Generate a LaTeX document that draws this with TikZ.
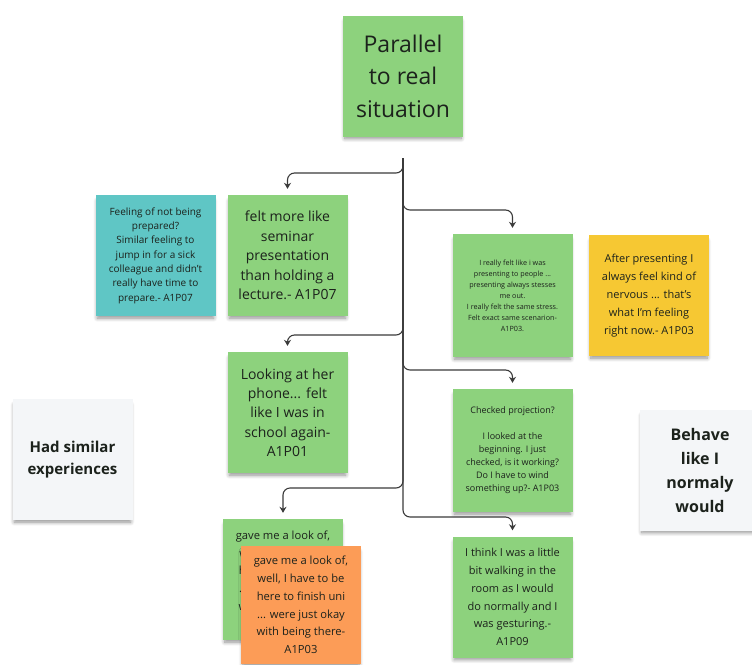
\documentclass[tikz,border=0pt]{standalone}
\usepackage{fontspec}
\setmainfont{Open Sans}
\usepackage{tikz}
\usetikzlibrary{arrows.meta,shadows.blur}
\usepackage{xcolor}
\definecolor{ink}{HTML}{1C221C}
\definecolor{linegray}{HTML}{3A3A3A}
\definecolor{notegreen}{HTML}{8DD27D}
\definecolor{noteteal}{HTML}{5FC6C5}
\definecolor{noteyellow}{HTML}{F6C833}
\definecolor{noteorange}{HTML}{FC9C57}
\definecolor{notegray}{HTML}{F4F6F8}

\tikzset{
  note/.style={minimum width=120pt, minimum height=121pt, inner sep=0pt,
    align=center, text=ink,
    blur shadow={shadow xshift=0pt, shadow yshift=-4pt, shadow scale=0.97,
      shadow blur steps=8, shadow blur radius=4pt, shadow opacity=45}},
  greennote/.style={note, fill=notegreen},
  link/.style={draw=linegray, line width=1.1pt, rounded corners=7pt,
    -{Stealth[length=6pt,width=7pt]}, shorten >=6pt}
}

\begin{document}
\begin{tikzpicture}[x=1pt, y=-1pt]
    \useasboundingbox (0,0) rectangle (752,664);

    % Title
    \node[greennote, font=\fontsize{23}{32.5}\selectfont] (title) at (403,76) {Parallel\\to real\\situation};

    % Left column
    \node[note, fill=noteteal, font=\fontsize{10}{14.3}\selectfont] (prepared) at (155.5,255.5)
        {Feeling of not being\\prepared?\\Similar feeling to\\jump in for a sick\\colleague and didn't\\really have time to\\prepare.- A1P07};
    \node[greennote, font=\fontsize{14}{19.5}\selectfont] (seminar) at (287.5,255.5)
        {felt more like\\seminar\\presentation\\than holding a\\lecture.- A1P07};
    \node[greennote, font=\fontsize{14}{19.3}\selectfont] (phone) at (287.5,412.5)
        {Looking at her\\phone... felt\\like I was in\\school again-\\A1P01};
    \node[greennote, font=\fontsize{11.2}{17.7}\selectfont] (lookback) at (283,579.5)
        {gave me a look of,\\well, I have to be\\here to finish uni\\... were just okay\\with being there-\\A1P03};
    \node[note, fill=noteorange, minimum height=118pt, font=\fontsize{11.2}{17.7}\selectfont] (look) at (301,605)
        {gave me a look of,\\well, I have to be\\here to finish uni\\... were just okay\\with being there-\\A1P03};

    % Right column
    \node[greennote, minimum height=123pt, font=\fontsize{7.2}{11}\selectfont] (stress) at (512.5,295.5)
        {I really felt like i was\\presenting to people ...\\presenting always stesses\\me out.\\I really felt the same stress.\\Felt exact same scenarion-\\A1P03.};
    \node[note, fill=noteyellow, font=\fontsize{11}{18}\selectfont] (nervous) at (649,295.5)
        {After presenting I\\always feel kind of\\nervous ... that's\\what I'm feeling\\right now.- A1P03};
    \node[greennote, minimum height=123pt, font=\fontsize{9}{13}\selectfont] (projection) at (512.5,450.5)
        {Checked projection?\\[13pt]I looked at the\\beginning. I just\\checked, is it working?\\Do I have to wind\\something up?- A1P03};
    \node[greennote, font=\fontsize{11}{17.8}\selectfont] (walking) at (512.5,597)
        {I think I was a little\\bit walking in the\\room as I would\\do normally and I\\was gesturing.-\\A1P09};

    % Category notes
    \node[note, fill=notegray, font=\bfseries\fontsize{15}{21.5}\selectfont] (similar) at (72.5,459.5)
        {Had similar\\experiences};
    \node[note, fill=notegray, font=\bfseries\fontsize{16}{24}\selectfont] (normal) at (700,470)
        {Behave\\like I\\normaly\\would};

    % Connectors
    \coordinate (top) at (403,158);
    \coordinate (l1) at (403,173);
    \coordinate (r1) at (403,210);
    \coordinate (l2) at (403,335);
    \coordinate (r2) at (403,370);
    \coordinate (l3) at (403,488);
    \coordinate (r3) at (403,517);
    \draw[link] (top) -- (l1) -| (seminar.north);
    \draw[link] (top) -- (r1) -| (stress.north);
    \draw[link] (top) -- (l2) -| (phone.north);
    \draw[link] (top) -- (r2) -| (projection.north);
    \draw[link] (top) -- (l3) -| (lookback.north);
    \draw[link] (top) -- (r3) -| (walking.north);
\end{tikzpicture}
\end{document}
